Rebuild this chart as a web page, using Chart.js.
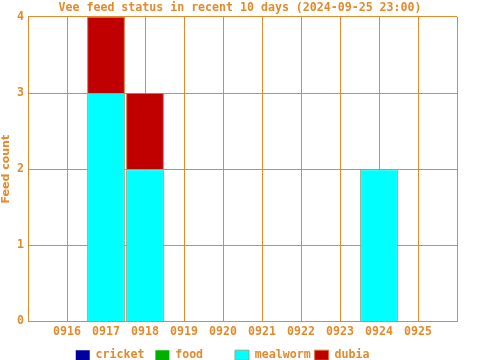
<!DOCTYPE html>
<html>
<head>
<meta charset="utf-8">
<script src="https://cdn.jsdelivr.net/npm/chart.js@4/dist/chart.umd.min.js"></script>
<style>
  html, body { margin: 0; padding: 0; background: #ffffff; }
  #wrap { width: 480px; height: 360px; }
</style>
</head>
<body>
<div id="wrap"><canvas id="feed-chart" width="480" height="360"></canvas></div>
<script>
const days = ['0916', '0917', '0918', '0919', '0920', '0921', '0922', '0923', '0924', '0925'];
const cricket = [0, 0, 0, 0, 0, 0, 0, 0, 0, 0];
const food = [0, 0, 0, 0, 0, 0, 0, 0, 0, 0];
const mealworm = [0, 3, 2, 0, 0, 0, 0, 0, 2, 0];
const dubia = [0, 1, 1, 0, 0, 0, 0, 0, 0, 0];
const yTicks = [0, 1, 2, 3, 4];

const orange = '#e38a2a';
const mono = 'DejaVu Sans Mono';
const monoSize = 11.6;

// one empty slot on each side so the days sit on the grid lines
const pad = arr => [null, ...arr, null];

document.addEventListener("DOMContentLoaded", function () {
    new Chart(document.getElementById("feed-chart").getContext("2d"), {
        type: 'bar',
        data: {
            labels: ['', ...days, ''],
            datasets: [
                { label: 'cricket', data: pad(cricket), backgroundColor: '#0000a0', borderWidth: 0 },
                { label: 'food', data: pad(food), backgroundColor: '#00b000', borderWidth: 0 },
                { label: 'mealworm', data: pad(mealworm), backgroundColor: '#00ffff', borderColor: '#7fae8a', borderWidth: 1 },
                { label: 'dubia', data: pad(dubia), backgroundColor: '#c00000', borderColor: '#d07040', borderWidth: 1 }
            ]
        },
        options: {
            responsive: false,
            animation: false,
            categoryPercentage: 1,
            barPercentage: 0.97,
            // legend box keeps 10px spare below its row, pull it down
            layout: { padding: { bottom: -11 } },
            plugins: {
                title: {
                    display: true,
                    text: 'Vee feed status in recent 10 days (2024-09-25 23:00)',
                    color: orange,
                    font: { family: mono, size: monoSize, weight: 'bold' },
                    padding: { top: 1, bottom: 2 }
                },
                legend: {
                    position: 'bottom',
                    labels: {
                        color: orange,
                        font: { family: mono, size: monoSize, weight: 'bold' },
                        boxWidth: 14,
                        boxHeight: 10,
                        padding: 4,
                        // equal width columns like the original legend, row sits a bit left of centre
                        generateLabels: chart => {
                            const items = Chart.defaults.plugins.legend.labels.generateLabels(chart);
                            return items.map((item, i) =>
                                Object.assign(item, { text: item.text.padEnd(i < items.length - 1 ? 8 : 10, ' ') }));
                        }
                    }
                },
                tooltip: { enabled: false }
            },
            scales: {
                x: {
                    stacked: true,
                    offset: false,
                    grid: { color: orange, offset: false, drawTicks: false },
                    border: { color: orange },
                    ticks: {
                        color: orange,
                        font: { family: mono, size: monoSize, weight: 'bold' },
                        maxRotation: 0,
                        autoSkip: false,
                        padding: 4
                    },
                    afterFit: scale => { scale.height = 24; }
                },
                y: {
                    stacked: true,
                    min: yTicks[0],
                    max: yTicks[yTicks.length - 1],
                    grid: { color: orange, drawTicks: false },
                    border: { color: orange },
                    ticks: {
                        stepSize: 1,
                        color: orange,
                        font: { family: mono, size: monoSize, weight: 'bold' },
                        padding: 4
                    },
                    title: {
                        display: true,
                        text: 'Feed count',
                        color: orange,
                        font: { family: 'DejaVu Sans', size: 11, weight: 'bold' },
                        padding: 0
                    },
                    afterFit: scale => { scale.width = 28; }
                },
                // empty strip on the right, keeps the title centred on the page
                yr: {
                    position: 'right',
                    display: true,
                    grid: { display: false },
                    border: { display: false },
                    ticks: { display: false },
                    afterFit: scale => { scale.width = 23; }
                }
            }
        }
    });
});
</script>
</body>
</html>
